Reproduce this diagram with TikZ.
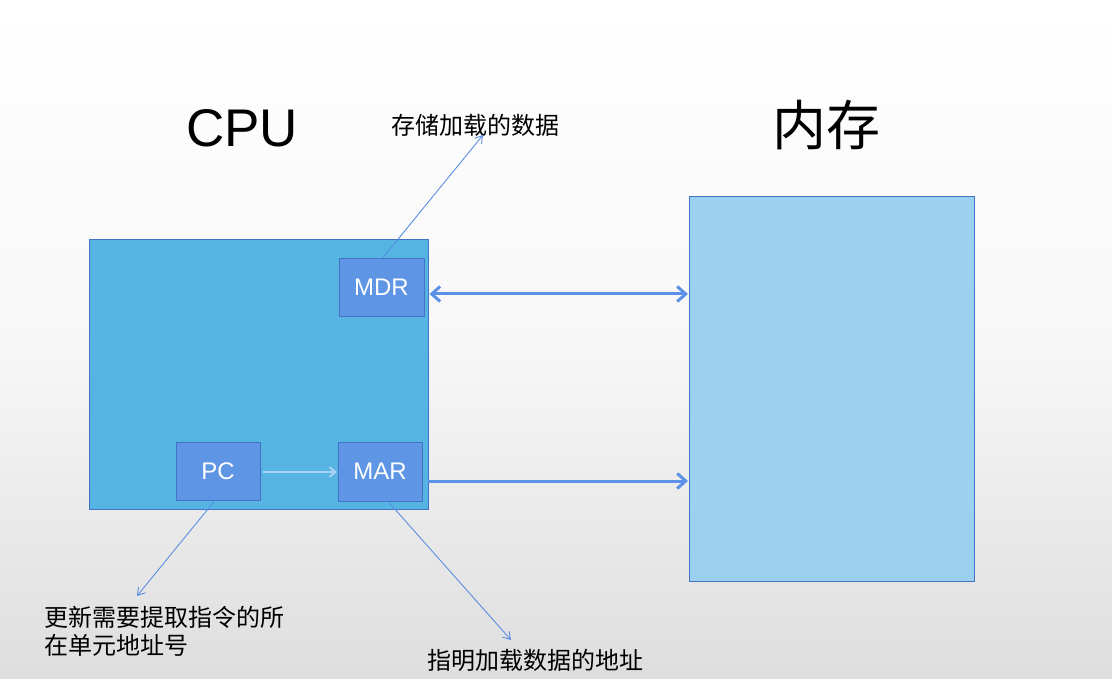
\documentclass[tikz,border=0pt]{standalone}
\usepackage{fontspec}
\setmainfont{Liberation Sans}
\newfontfamily\cjk{Noto Sans CJK SC}
\usetikzlibrary{arrows.meta}
\definecolor{cpufill}{HTML}{56B4E3}
\definecolor{regfill}{HTML}{5E95E5}
\definecolor{edgeblue}{HTML}{4472C4}
\definecolor{memfill}{HTML}{9BD1EE}
\definecolor{thinarrow}{HTML}{5A8EE2}
\definecolor{thickarrow}{HTML}{5B91E6}
\definecolor{lightarrow}{HTML}{A9D2F2}
\begin{document}
\begin{tikzpicture}[x=1pt,y=-1pt,
  regbox/.style={draw=edgeblue,fill=regfill,line width=0.8pt,minimum width=85pt,minimum height=58pt,inner sep=0pt,text=white,font=\fontsize{24}{26}\selectfont},
  thinarr/.style={draw=thinarrow,line width=0.9pt,-{Straight Barb[length=7pt,width=9pt]}},
  thickarr/.style={draw=thickarrow,line width=3pt,-{Straight Barb[length=8.5pt,width=15pt]}},
  cjklabel/.style={font=\cjk\fontsize{24}{28}\selectfont,inner sep=0pt,align=left}]
\shade[top color=white,bottom color=black!13,middle color=black!3] (0,0) rectangle (1112,679);
\useasboundingbox (0,0) rectangle (1112,679);
% boxes
\node[draw=edgeblue,fill=cpufill,line width=0.8pt,minimum width=339pt,minimum height=270pt,inner sep=0pt] (cpu) at (258.5,374) {};
\node[draw=edgeblue,fill=memfill,line width=0.8pt,minimum width=285pt,minimum height=385pt,inner sep=0pt] (mem) at (831.5,388.5) {};
\node[regbox] (mdr) at (381.5,287) {MDR};
\node[regbox,minimum width=84pt] (pc) at (218,471) {PC};
\node[regbox,minimum width=84pt,minimum height=59pt] (mar) at (380,471.5) {MAR};
% titles
\node[font=\fontsize{53}{60}\selectfont,inner sep=0pt] (cputitle) at (242,128) {CPU};
\node[font=\cjk\fontsize{54}{60}\selectfont,inner sep=0pt] (memtitle) at (826,125) {内存};
% labels
\node[cjklabel,anchor=west] (mdrlabel) at (391,125) {存储加载的数据};
\node[cjklabel,anchor=north west] (pclabel) at (44,606) {更新需要提取指令的所\\在单元地址号};
\node[cjklabel,anchor=west] (marlabel) at (427,660) {指明加载数据的地址};
% free ends of the pointer arrows
\coordinate (mdrtip) at (483,135);
\coordinate (pctip) at (137,596);
\coordinate (martip) at (511,640);
\draw[thinarr] (mdr.north) ++(1.5,0) -- (mdrtip);
\draw[thinarr] (pc.south) ++(-3,0) -- (pctip);
\draw[thinarr] (mar.south) ++(8,0) -- (martip);
\draw[draw=lightarrow,line width=2pt,-{Straight Barb[length=6pt,width=10pt]}] (pc.east) ++(3,1) -- (337,472);
\draw[thickarr,{Straight Barb[length=8.5pt,width=15pt]}-{Straight Barb[length=8.5pt,width=15pt]}] (mdr.east) ++(5,7) -- (688,294);
\draw[thickarr] (mar.east) ++(6,9.5) -- (688,481);
\end{tikzpicture}
\end{document}
